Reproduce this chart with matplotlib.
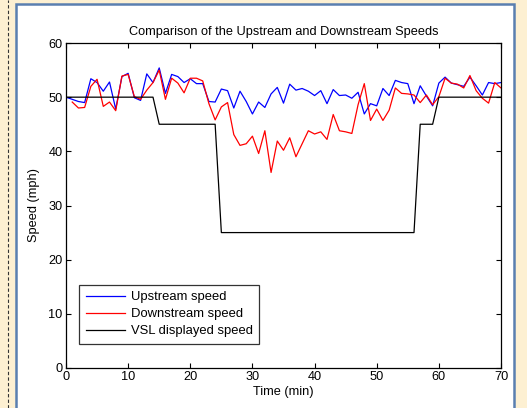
import matplotlib
matplotlib.use("Agg")
import matplotlib.pyplot as plt
from matplotlib.patches import Rectangle
from matplotlib.lines import Line2D
import numpy as np

plt.rcParams['font.family'] = ['Liberation Sans', 'DejaVu Sans']

# ---- data ----
time_up = list(range(0, 71))
upstream = [50.0, 49.6, 49.2, 49.0, 53.4, 52.7, 51.1, 52.8, 47.8, 53.8,
            54.4, 49.9, 49.4, 54.3, 52.7, 55.4, 50.7, 54.2, 53.8, 52.7,
            53.4, 52.5, 52.5, 49.2, 49.1, 51.5, 51.2, 48.0, 51.1, 49.2,
            46.9, 49.1, 48.1, 50.6, 51.8, 48.9, 52.4, 51.3, 51.6, 51.1,
            50.3, 51.2, 48.8, 51.4, 50.3, 50.4, 49.8, 50.9, 46.9, 48.8,
            48.4, 51.6, 50.3, 53.1, 52.7, 52.5, 48.8, 52.1, 50.2, 48.4,
            52.6, 53.7, 52.6, 52.3, 52.0, 53.7, 52.1, 50.4, 52.7, 52.5,
            52.7]
time_down = list(range(1, 71))
downstream = [49.1, 48.0, 48.1, 52.0, 53.3, 48.3, 49.1, 47.5, 53.9,
              54.2, 50.1, 49.6, 51.3, 52.7, 55.0, 49.6, 53.5, 52.6, 50.8,
              53.5, 53.5, 53.0, 48.8, 45.8, 48.2, 49.0, 43.1, 41.1, 41.4,
              42.8, 39.6, 43.8, 36.1, 41.9, 40.2, 42.5, 39.0, 41.4, 43.8,
              43.2, 43.6, 42.2, 46.8, 43.8, 43.6, 43.3, 48.6, 52.5, 45.7,
              47.8, 45.7, 47.6, 51.7, 50.7, 50.6, 50.4, 49.0, 50.4, 48.6,
              50.1, 53.5, 52.6, 52.4, 51.7, 54.0, 51.2, 49.8, 48.9, 52.7,
              51.7]
time_vsl = list(range(0, 71))
vsl = [50]*15 + [45]*10 + [25]*32 + [45]*3 + [50]*11

xticks = [0, 10, 20, 30, 40, 50, 60, 70]
yticks = [0, 10, 20, 30, 40, 50, 60]

FS = 9.2

W, H = 527, 408
fig = plt.figure(figsize=(W/100, H/100), dpi=100)
fig.patch.set_facecolor('#fdf0d2')

# white panel with blue border
panel = Rectangle((16/W, -0.05), (514-16)/W, (H-4)/H + 0.05,
                  transform=fig.transFigure, facecolor='white',
                  edgecolor='#5a7fb0', linewidth=1.8, zorder=-5)
fig.add_artist(panel)
# dashed line on the left strip
fig.add_artist(Line2D([8/W, 8/W], [0, 1], transform=fig.transFigure,
                      color='#333333', linewidth=0.8, linestyle=(0, (3, 2)),
                      zorder=-5))

ax = fig.add_axes([66/W, (H-368)/H, 435/W, 325/H])
ax.set_zorder(2)
ax.set_facecolor('white')

ax.plot(time_up, upstream, color='#0000ff', lw=0.9, label='Upstream speed')
ax.plot(time_down, downstream, color='#ff0000', lw=0.9, label='Downstream speed')
ax.plot(time_vsl, vsl, color='black', lw=0.9, label='VSL displayed speed')

ax.set_xlim(0, 70)
ax.set_ylim(0, 60)
ax.set_xticks(xticks)
ax.set_yticks(yticks)
ax.tick_params(direction='in', length=3.5, width=0.8, top=True, right=True,
               labelsize=FS, pad=2.5)
for s in ax.spines.values():
    s.set_linewidth(0.9)

ax.set_title('Comparison of the Upstream and Downstream Speeds', fontsize=FS, pad=6)
ax.set_xlabel('Time (min)', fontsize=FS, labelpad=2)
ax.set_ylabel('Speed (mph)', fontsize=FS, labelpad=6)

leg = ax.legend(loc='lower left', bbox_to_anchor=(0.0305, 0.074), borderaxespad=0,
                fontsize=9.4, frameon=True, fancybox=False, handlelength=3.0,
                handletextpad=0.45, labelspacing=0.37, borderpad=0.5)
leg.get_frame().set_edgecolor('black')
leg.get_frame().set_linewidth(0.9)

fig.savefig('out.png', dpi=100, facecolor=fig.get_facecolor())
